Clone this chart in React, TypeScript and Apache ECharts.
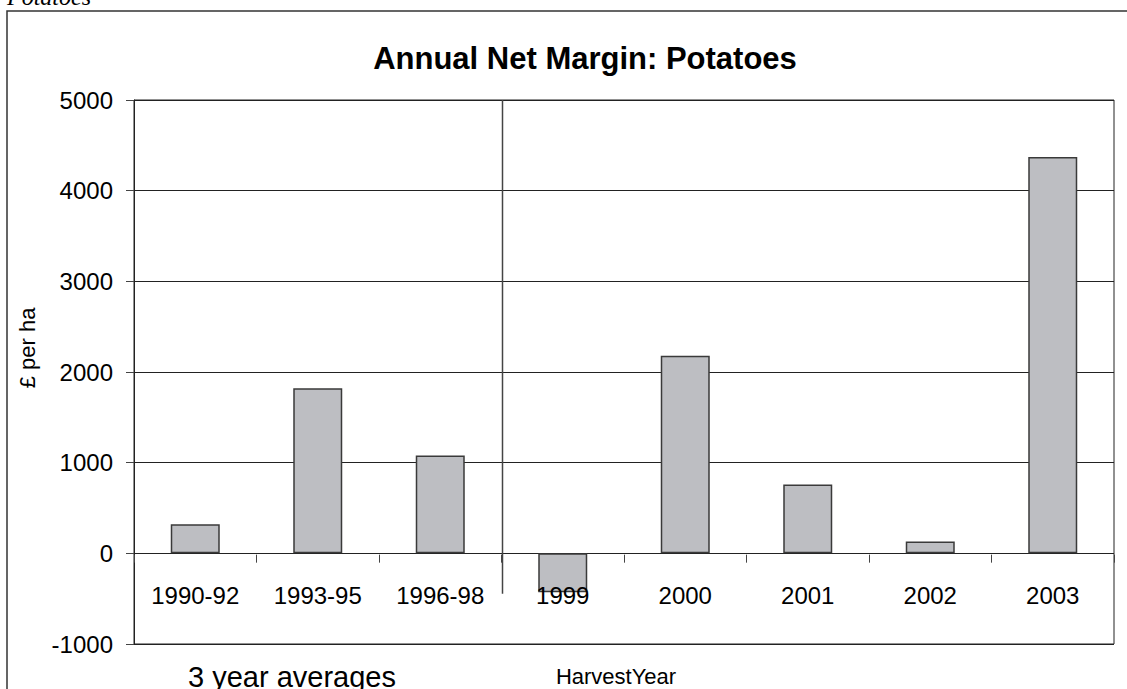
import React, { useEffect, useRef } from "react";
import * as echarts from "echarts";

const categories = ["1990-92", "1993-95", "1996-98", "1999", "2000", "2001", "2002", "2003"];
const netMargin = [320, 1820, 1080, -430, 2180, 760, 130, 4370];
const yMin = -1000;
const yMax = 5000;
const yStep = 1000;
const titleText = "Annual Net Margin: Potatoes";
const yAxisTitle = "£ per ha";
const groupLabelLeft = "3 year averages";
const groupLabelRight = "HarvestYear";
const pageHeading = "Potatoes";

const SANS = "'Liberation Sans', Arial, sans-serif";
const SERIF = "'Liberation Serif', 'Times New Roman', serif";

export default function App() {
  const ref = useRef<HTMLDivElement>(null);

  useEffect(() => {
    const chart = echarts.init(ref.current!, null, { renderer: "svg" });
    const option: any = {
      animation: false,
      backgroundColor: "#ffffff",
      title: {
        text: titleText,
        left: 580,
        top: 38,
        textAlign: "center",
        textStyle: { fontSize: 31, fontWeight: "bold", color: "#000", fontFamily: SANS },
      },
      grid: {
        left: 134,
        right: 13,
        top: 100,
        bottom: 45,
        show: true,
        borderColor: "#222",
        borderWidth: 1,
        backgroundColor: "transparent",
      },
      xAxis: {
        type: "category",
        data: categories,
        z: 5,
        offset: 0,
        axisLine: { show: false, onZero: false, lineStyle: { color: "#222", width: 1 } },
        axisTick: { show: true, length: 8, lineStyle: { color: "#444", width: 1 } },
        axisLabel: { interval: 0, fontSize: 24, color: "#000", margin: 29, fontFamily: SANS },
        splitLine: { show: false },
      },
      yAxis: {
        type: "value",
        min: yMin,
        max: yMax,
        interval: yStep,
        axisLine: { show: true, lineStyle: { color: "#222", width: 1 } },
        axisTick: { show: true, length: 8, lineStyle: { color: "#444", width: 1 } },
        axisLabel: {
          fontSize: 24,
          color: "#000",
          margin: 21,
          fontFamily: SANS,
          formatter: (v: number) => String(v),
        },
        splitLine: { show: true, lineStyle: { color: "#222", width: 1 } },
      },
      series: [
        {
          type: "bar",
          data: netMargin,
          barWidth: "40%",
          itemStyle: { color: "#BDBEC2", borderColor: "#3a3a3a", borderWidth: 1.5 },
        },
      ],
    };
    chart.setOption(option);

    const x2 = chart.convertToPixel({ xAxisIndex: 0 }, 2) as number;
    const x3 = chart.convertToPixel({ xAxisIndex: 0 }, 3) as number;
    const yTop = chart.convertToPixel({ yAxisIndex: 0 }, yMax) as number;
    const yZero = chart.convertToPixel({ yAxisIndex: 0 }, 0) as number;
    const yBottom = chart.convertToPixel({ yAxisIndex: 0 }, yMin) as number;
    const divX = (x2 + x3) / 2 + 1;

    chart.setOption({
      xAxis: { offset: yZero - yBottom },
      graphic: [
        {
          type: "rect",
          shape: { x: 7, y: 11, width: 1300, height: 900 },
          style: { fill: "none", stroke: "#333", lineWidth: 1.5 },
          silent: true,
        },
        {
          type: "text",
          x: 7,
          y: 9,
          style: {
            text: pageHeading,
            fontSize: 24,
            fontStyle: "italic",
            fontFamily: SERIF,
            fill: "#000",
            align: "left",
            verticalAlign: "bottom",
          },
        },
        {
          type: "line",
          shape: { x1: divX, y1: yTop, x2: divX, y2: yZero + 47 },
          style: { stroke: "#444", lineWidth: 1.5 },
          z: 10,
        },
        {
          type: "text",
          x: 27,
          y: 348,
          rotation: Math.PI / 2,
          style: {
            text: yAxisTitle,
            fontSize: 22,
            fontFamily: SANS,
            fill: "#000",
            align: "center",
            verticalAlign: "middle",
          },
        },
        {
          type: "text",
          x: 292,
          y: 677,
          style: {
            text: groupLabelLeft,
            fontSize: 29,
            fontFamily: SANS,
            fill: "#000",
            align: "center",
            verticalAlign: "middle",
          },
        },
        {
          type: "text",
          x: 616,
          y: 676,
          style: {
            text: groupLabelRight,
            fontSize: 22,
            fontFamily: SANS,
            fill: "#000",
            align: "center",
            verticalAlign: "middle",
          },
        },
      ],
    });

    return () => chart.dispose();
  }, []);

  return (
    <div
      ref={ref}
      style={{ position: "fixed", left: 0, top: 0, width: 1127, height: 689 }}
    />
  );
}
